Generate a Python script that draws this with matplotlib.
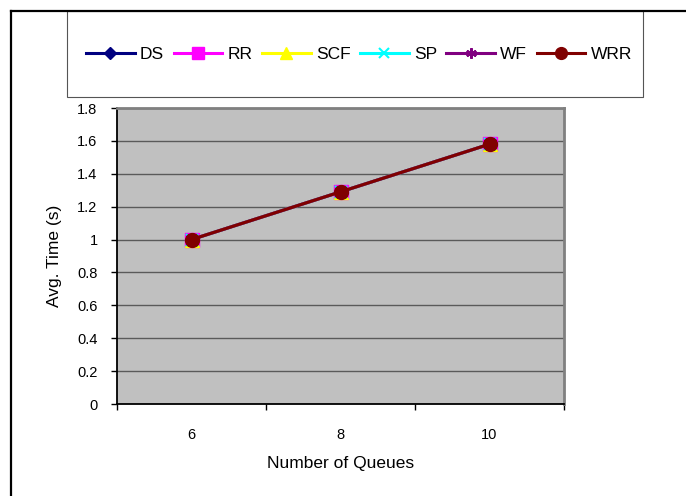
import matplotlib
matplotlib.use("Agg")
import matplotlib.pyplot as plt
from matplotlib.patches import Rectangle
from matplotlib.lines import Line2D

plt.rcParams['font.family'] = ['Liberation Sans', 'DejaVu Sans']

categories = ["6", "8", "10"]
series_names = ["DS", "RR", "SCF", "SP", "WF", "WRR"]
ds = [1.00, 1.29, 1.58]
rr = [1.00, 1.29, 1.58]
scf = [1.00, 1.29, 1.58]
sp = [1.00, 1.29, 1.58]
wf = [1.00, 1.29, 1.58]
wrr = [1.00, 1.29, 1.58]
yticks = [0, 0.2, 0.4, 0.6, 0.8, 1, 1.2, 1.4, 1.6, 1.8]
ytick_labels = ["0", "0.2", "0.4", "0.6", "0.8", "1", "1.2", "1.4", "1.6", "1.8"]

values = [ds, rr, scf, sp, wf, wrr]
colors = ["#000080", "#FF00FF", "#FFFF00", "#00FFFF", "#800080", "#800000"]
markers = ["D", "s", "^", "x", (6, 2, 0), "o"]
msizes = [7, 10, 10, 8, 9, 10]

W, H = 686, 496
fig = plt.figure(figsize=(W/100, H/100), dpi=100)
ax = fig.add_axes([117/W, 1 - 404/H, (564-117)/W, (404-108)/H])
ax.set_facecolor("#C0C0C0")

x = list(range(len(categories)))
handles = []
for name, vals, c, m, ms in zip(series_names, values, colors, markers, msizes):
    kw = dict(markeredgecolor=c, markerfacecolor=c)
    if m == "x" or isinstance(m, tuple):
        kw["markeredgewidth"] = 1.5
    h, = ax.plot(x, vals, color=c, lw=2.2, marker=m, markersize=ms, label=name, **kw)
    handles.append(h)

ax.set_xlim(-0.5, 2.5)
ax.set_ylim(0, 1.8)
ax.set_yticks(yticks)
ax.set_yticklabels(ytick_labels)
ax.set_xticks(x)
ax.set_xticklabels(categories)
ax.set_xticks([-0.5, 0.5, 1.5, 2.5], minor=True)
ax.tick_params(axis='x', which='major', length=0, pad=17, labelsize=10.5)
ax.tick_params(axis='x', which='minor', length=4.5, direction='out', width=1)
ax.tick_params(axis='y', length=4, direction='out', labelsize=10.5, width=1, pad=10)
ax.yaxis.grid(True, color="#5a5a5a", lw=1)
ax.set_axisbelow(True)
for s in ["top", "right"]:
    ax.spines[s].set_color("#808080")
    ax.spines[s].set_linewidth(2)
for s in ["left", "bottom"]:
    ax.spines[s].set_color("black")
    ax.spines[s].set_linewidth(1.3)

ax.set_xlabel("Number of Queues", fontsize=12.5, labelpad=10.5)
ax.set_ylabel("Avg. Time (s)", fontsize=12.5, labelpad=11)

# legend box with shadow
fig.patches.append(Rectangle((68/W, 1 - 98/H), 576/W, 86/H, transform=fig.transFigure,
                             facecolor="#A0A0A0", edgecolor="none", zorder=0))
fig.patches.append(Rectangle((67/W, 1 - 97/H), 576/W, 86/H, transform=fig.transFigure,
                             facecolor="white", edgecolor="#555555", lw=0.8, zorder=1))
leg = fig.legend(handles=handles, loc="center", bbox_to_anchor=(359/W, 1 - 54/H),
                 ncol=6, frameon=False, fontsize=12.5, handlelength=2.8, handletextpad=0.3,
                 columnspacing=0.55, borderpad=0, markerscale=0.85)

# figure border lines (top and left)
fig.lines.append(Line2D([11/W, 1], [1 - 11/H, 1 - 11/H], transform=fig.transFigure,
                        color="black", lw=1.6, zorder=5))
fig.lines.append(Line2D([11/W, 11/W], [0, 1 - 11/H], transform=fig.transFigure,
                        color="black", lw=1.6, zorder=5))

fig.savefig("out.png", dpi=100)
